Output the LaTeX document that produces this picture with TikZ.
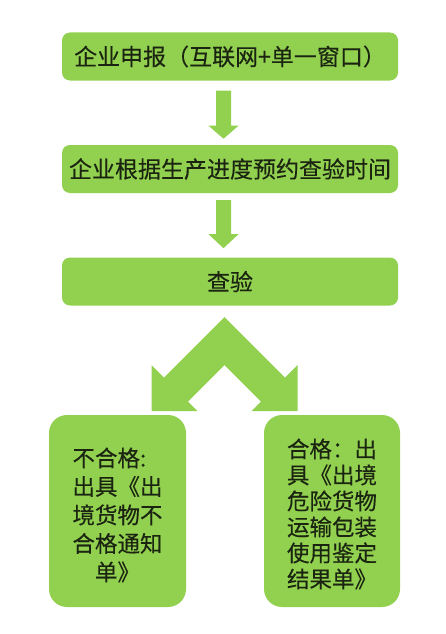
\documentclass[tikz,border=0pt]{standalone}
\usepackage{fontspec}
\setmainfont{Noto Sans CJK SC}[FakeBold=0.25]
\usetikzlibrary{calc}
\definecolor{boxgreen}{HTML}{92D050}
\definecolor{txt}{HTML}{1A2410}
\begin{document}
\begin{tikzpicture}[x=1pt,y=-1pt,
  flowbox/.style={fill=boxgreen, rounded corners=8pt, minimum width=336pt, minimum height=48pt, inner sep=0pt, text=txt, font=\fontsize{23}{28}\selectfont},
  resultbox/.style={fill=boxgreen, rounded corners=18pt, minimum width=137pt, minimum height=192pt, inner sep=0pt},
  resulttext/.style={inner sep=0pt, text=txt, align=left},
  blockarrow/.style={fill=boxgreen}]
\useasboundingbox (0,0) rectangle (446,634);
\node[flowbox] (b1) at (230,56.5) {企业申报（互联网+单一窗口）};
\node[flowbox] (b2) at (230,169) {企业根据生产进度预约查验时间};
\node[flowbox] (b3) at (230,281.5) {查验};
\node[resultbox] (r1) at (117.5,511) {};
\node[resultbox, minimum width=136pt] (r2) at (332,511) {};
\node[resulttext, font=\fontsize{22.5}{28.5}\selectfont] (t1) at ($(r1.center)+(0,4)$) {不合格:\\出具《出\\境货物不\\合格通知\\　单》};
\node[resulttext, font=\fontsize{22.5}{26}\selectfont] (t2) at ($(r2.center)+(0,3)$) {合格：出\\具《出境\\危险货物\\运输包装\\使用鉴定\\结果单》};
% block arrows
\coordinate (a1) at ($(b1.south)+(-6.5,10)$);
\fill[blockarrow] ($(a1)+(-7.5,0)$) -- ($(a1)+(7.5,0)$) -- ($(a1)+(7.5,35)$) -- ($(a1)+(15,35)$) -- ($(a1)+(0,48)$) -- ($(a1)+(-15,35)$) -- ($(a1)+(-7.5,35)$) -- cycle;
\coordinate (a2) at ($(b2.south)+(-6.5,7)$);
\fill[blockarrow] ($(a2)+(-7.5,0)$) -- ($(a2)+(7.5,0)$) -- ($(a2)+(7.5,34)$) -- ($(a2)+(15,34)$) -- ($(a2)+(0,48)$) -- ($(a2)+(-15,34)$) -- ($(a2)+(-7.5,34)$) -- cycle;
% chevron double arrow
\fill[blockarrow] (224.5,317) -- (285,377.5) -- (297.5,365) -- (297.5,411) -- (251.5,411) -- (261,401.5) -- (224.5,365) -- (188,401.5) -- (197.5,411) -- (151.5,411) -- (151.5,365) -- (164,377.5) -- cycle;
\end{tikzpicture}
\end{document}
